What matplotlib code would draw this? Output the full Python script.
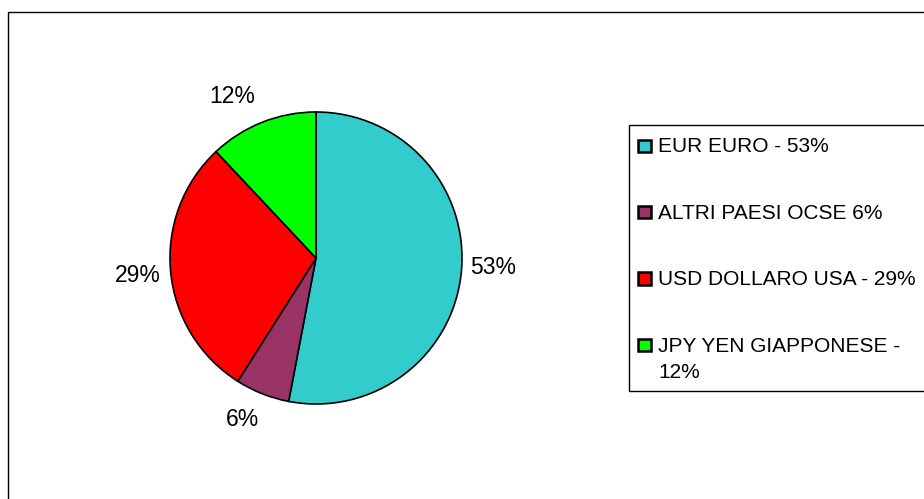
import matplotlib.pyplot as plt
from matplotlib.patches import Rectangle

plt.rcParams['font.family'] = ['Liberation Sans', 'DejaVu Sans']

labels = ['EUR EURO - 53%', 'ALTRI PAESI OCSE 6%', 'USD DOLLARO USA - 29%',
          'JPY YEN GIAPPONESE -\n12%']
values = [53, 6, 29, 12]
colors = ['#33CCCC', '#993366', '#FF0000', '#00FF00']

# small pixel nudges for the percent labels (Excel-like placement)
label_nudge = [(0, 7), (-8, 4), (-1, -1), (-18, -4)]

W, H = 924, 499
fig = plt.figure(figsize=(W / 100, H / 100), dpi=100)

def px(x, y):
    # pixel coords (from top-left) -> figure fraction
    return x / W, 1 - y / H

# outer chart border (runs off right and bottom edges)
fig.patches.append(Rectangle((8 / W, -0.1), 1.2, 1.1 - 12 / H, transform=fig.transFigure,
                             fill=False, edgecolor='black', linewidth=1))

# pie centered at (316, 258) px, radius 146 px
cx, cy, r = 316, 258, 146
half = 180
ax = fig.add_axes([(cx - half) / W, (H - cy - half) / H, 2 * half / W, 2 * half / H])
wedges, _, autotexts = ax.pie(values, colors=colors, startangle=90, counterclock=False,
                              autopct='%1.0f%%', pctdistance=1.22,
                              wedgeprops=dict(edgecolor='black', linewidth=1.2),
                              textprops=dict(fontsize=16.5))
lim = half / r
ax.set_xlim(-lim, lim)
ax.set_ylim(-lim, lim)
ax.set_aspect('equal')
ax.axis('off')

for t, (dx, dy) in zip(autotexts, label_nudge):
    x, y = t.get_position()
    t.set_position((x + dx / r, y + dy / r))

# legend frame, running off the right edge
fig.patches.append(Rectangle(px(629, 391), 0.5, (391 - 125) / H,
                             transform=fig.transFigure, fill=False,
                             edgecolor='black', linewidth=1))

# legend entries drawn by hand so the marker sits on the first line
base0, step, line_h, msize = 152.3, 66.4, 26.3, 12.5
for i, (lab, col) in enumerate(zip(labels, colors)):
    b = base0 + i * step
    mx, my = px(638, b - 6.5 + msize / 2)
    fig.patches.append(Rectangle((mx, my), msize / W, msize / H, transform=fig.transFigure,
                                 facecolor=col, edgecolor='black', linewidth=1.8))
    for k, line in enumerate(lab.split('\n')):
        fig.text(*px(658, b + k * line_h), line, fontsize=15, va='baseline', ha='left')

plt.savefig('out.png', dpi=100)
